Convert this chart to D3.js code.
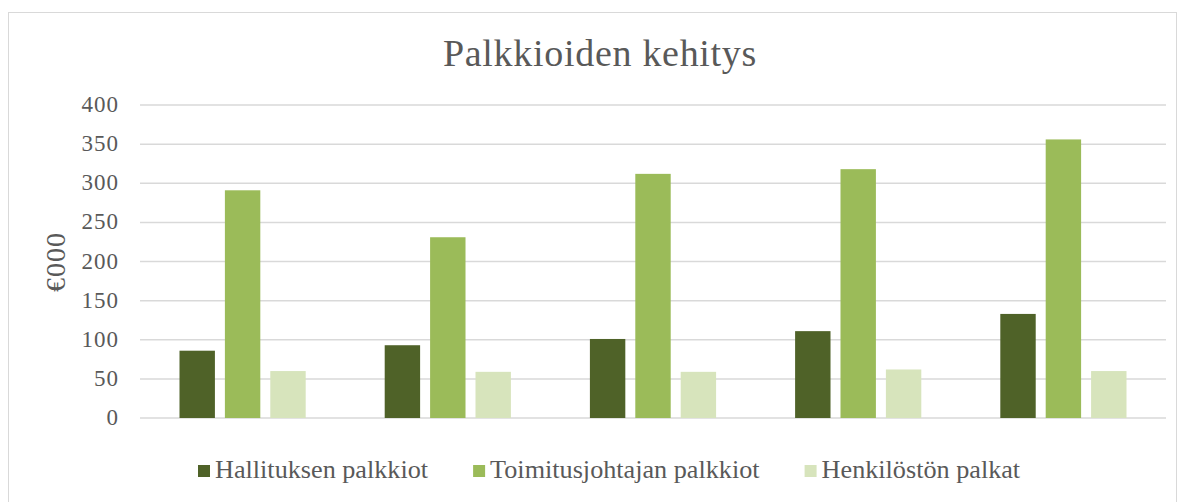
<!DOCTYPE html>
<html>
<head>
<meta charset="utf-8">
<script src="https://cdn.jsdelivr.net/npm/d3@7"></script>
<style>
  body { margin: 0; background: #fff; }
  text { font-family: "Liberation Serif", "DejaVu Serif", serif; fill: #595959; }
</style>
</head>
<body>
<script>
const years = ['1', '2', '3', '4', '5']
const series_names = ['Hallituksen palkkiot', 'Toimitusjohtajan palkkiot', 'Henkilöstön palkat']
const hallitus = [86, 93, 101, 111, 133]
const toimitusjohtaja = [291, 231, 312, 318, 356]
const henkilosto = [60, 59, 59, 62, 60]
const y_ticks = [0, 50, 100, 150, 200, 250, 300, 350, 400]
const colors = ['#4f6228', '#9bbb59', '#d7e4bc']

const values = [hallitus, toimitusjohtaja, henkilosto]
const width = 1185, height = 502
const plot = { left: 140, right: 1166, top: 105, bottom: 418 }

const svg = d3.select("body")
              .append("svg")
              .attr("width", width)
              .attr("height", height);

// chart frame
svg.append("rect")
   .attr("x", 8.5).attr("y", 12.5)
   .attr("width", 1168).attr("height", 500)
   .attr("fill", "none")
   .attr("stroke", "#d9d9d9");

const x = d3.scaleBand().domain(years).range([plot.left, plot.right]).paddingInner(0.385).paddingOuter(0.1925);
const x_inner = d3.scaleBand().domain(d3.range(3)).range([0, x.bandwidth()]).paddingInner(0.22);
const y = d3.scaleLinear().domain([0, 400]).range([plot.bottom, plot.top]);

svg.selectAll("line.grid")
   .data(y_ticks)
   .enter()
   .append("line")
   .attr("class", "grid")
   .attr("x1", plot.left).attr("x2", plot.right)
   .attr("y1", d => y(d)).attr("y2", d => y(d))
   .attr("stroke", "#d9d9d9")
   .attr("stroke-width", 1.5);

svg.selectAll("text.ytick")
   .data(y_ticks)
   .enter()
   .append("text")
   .attr("class", "ytick")
   .attr("x", 119)
   .attr("y", d => y(d) + 7)
   .attr("text-anchor", "end")
   .attr("font-size", "23px")
   .attr("letter-spacing", "1px")
   .text(d => d);

const groups = svg.selectAll("g.year")
   .data(years)
   .enter()
   .append("g")
   .attr("class", "year")
   .attr("transform", d => `translate(${x(d)},0)`);

groups.selectAll("rect")
   .data((d, i) => values.map((s, k) => ({ k: k, v: s[i] })))
   .enter()
   .append("rect")
   .attr("x", d => x_inner(d.k))
   .attr("width", x_inner.bandwidth())
   .attr("y", d => y(d.v))
   .attr("height", d => y(0) - y(d.v))
   .attr("fill", d => colors[d.k]);

svg.append("text")
   .attr("x", 600)
   .attr("y", 66)
   .attr("text-anchor", "middle")
   .attr("font-size", "38px")
   .attr("letter-spacing", "0.7px")
   .text("Palkkioiden kehitys");

svg.append("text")
   .attr("transform", "translate(65,262) rotate(-90)")
   .attr("text-anchor", "middle")
   .attr("font-size", "28px")
   .attr("letter-spacing", "1px")
   .text("€000");

// legend
let lx = 198;
series_names.forEach((name, i) => {
  svg.append("rect")
     .attr("x", lx).attr("y", 465)
     .attr("width", 12).attr("height", 12)
     .attr("fill", colors[i]);
  const t = svg.append("text")
     .attr("x", lx + 17)
     .attr("y", 478)
     .attr("font-size", "26.2px")
     .text(name);
  lx += 17 + t.node().getComputedTextLength() + 45;
});
</script>
</body>
</html>
